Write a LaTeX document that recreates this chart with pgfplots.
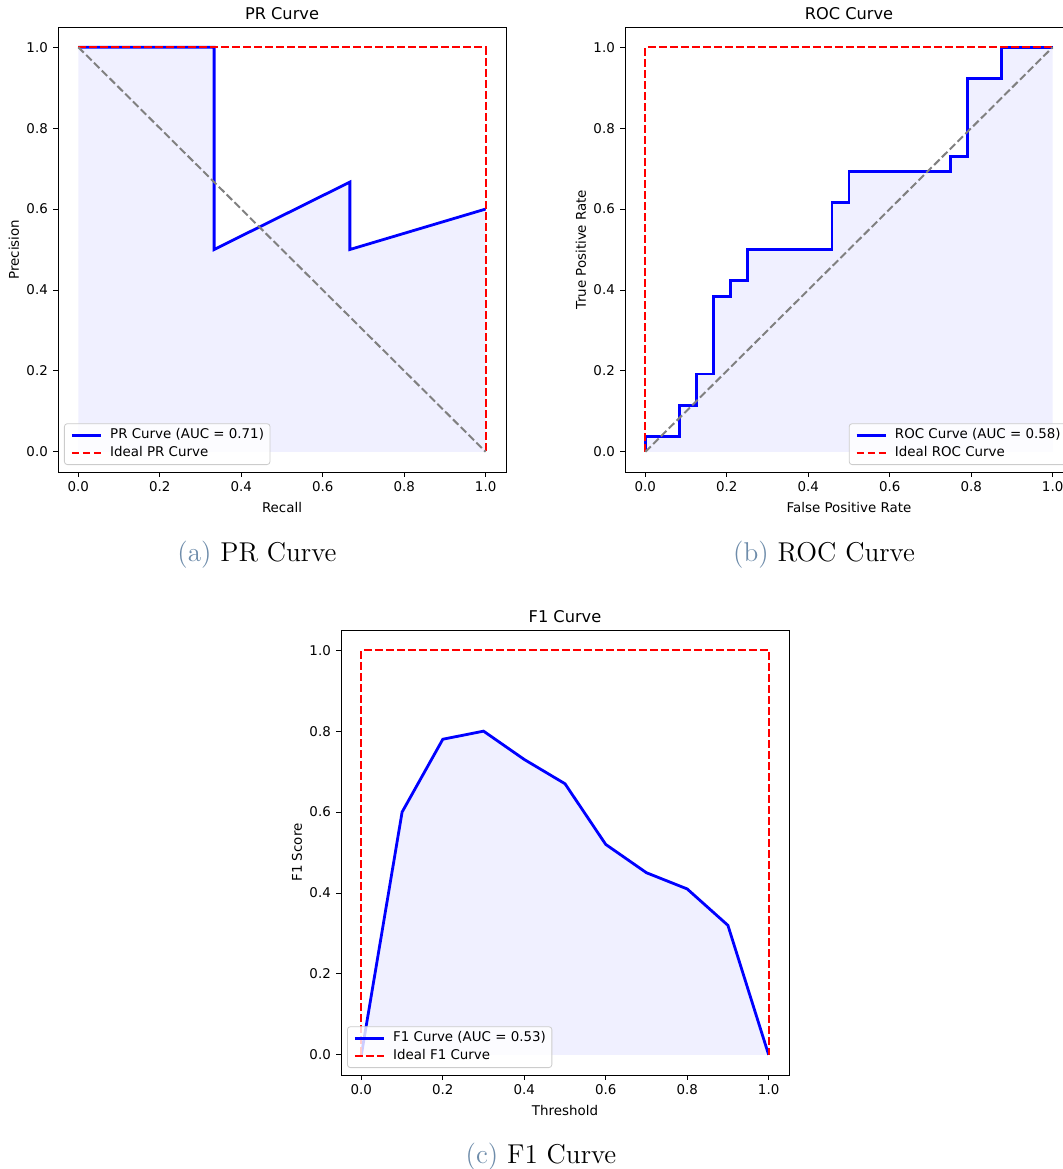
\documentclass[border=0pt]{standalone}
\usepackage{pgfplots}
\pgfplotsset{compat=1.18}
\usepackage{fontspec}
\newfontfamily\dejavu{DejaVu Sans}
\definecolor{fillc}{RGB}{240,240,255}
\definecolor{capc}{RGB}{110,140,170}
\definecolor{legc}{RGB}{204,204,204}

\pgfplotsset{
  mpl/.style={
    scale only axis, width=224pt, height=222.5pt,
    xmin=-0.05, xmax=1.05, ymin=-0.05, ymax=1.05,
    xtick={0,0.2,0.4,0.6,0.8,1}, ytick={0,0.2,0.4,0.6,0.8,1},
    tick pos=left, tick align=outside,
    major tick length=2.45pt,
    every tick/.style={black, line width=0.45pt},
    axis line style={line width=0.45pt},
    /pgf/number format/fixed,
    /pgf/number format/fixed zerofill,
    /pgf/number format/precision=1,
    /pgf/number format/assume math mode=true,
    ticklabel style={font=\dejavu\fontsize{6.7}{8}\selectfont, inner sep=0pt},
    xticklabel style={yshift=-2.3pt},
    yticklabel style={xshift=-2.45pt},
    every axis title/.style={at={(0.5,1)}, yshift=6.5pt, anchor=center,
      font=\dejavu\fontsize{8.1}{9.5}\selectfont},
    every axis x label/.style={at={(0.5,0)}, yshift=-17.5pt, anchor=center,
      font=\dejavu\fontsize{6.7}{8}\selectfont},
    every axis y label/.style={at={(0,0.5)}, xshift=-22pt, rotate=90, anchor=center,
      font=\dejavu\fontsize{6.7}{8}\selectfont},
    legend cell align=left,
    legend image code/.code={\draw[##1] (0pt,0pt) -- (14.5pt,0pt);},
    legend style={draw=legc, fill=white, fill opacity=0.8, text opacity=1,
      rounded corners=1.5pt,
      font=\dejavu\fontsize{6.7}{8}\selectfont,
      inner xsep=3pt, inner ysep=1.5pt, row sep=0.3pt,
      nodes={inner xsep=0pt, inner ysep=1pt},
      /tikz/every odd column/.append style={column sep=4pt}},
  },
  bl/.style={blue, line width=1.4pt},
  rd/.style={red, line width=1.05pt, dash pattern=on 3.85pt off 1.65pt},
  gr/.style={gray, line width=1.0pt, dash pattern=on 3.85pt off 1.65pt, forget plot},
  fl/.style={fill=fillc, draw=none, forget plot},
}

\begin{document}
\begin{tikzpicture}
% PR curve
\begin{axis}[mpl, at={(29pt,-236pt)}, anchor=south west,
  title={PR Curve}, xlabel={Recall}, ylabel={Precision},
  legend style={at={(0,0)}, anchor=south west, xshift=3pt, yshift=3.5pt}]
\addplot[fl] coordinates {(0,1) (0.3333,1) (0.3333,0.5) (0.6667,0.6667) (0.6667,0.5) (1,0.6) (1,0) (0,0)};
\addplot[bl] coordinates {(0,1) (0.3333,1) (0.3333,0.5) (0.6667,0.6667) (0.6667,0.5) (1,0.6)};
\addplot[rd] coordinates {(0,1) (1,1) (1,0)};
\addplot[gr] coordinates {(0,1) (1,0)};
\legend{PR Curve (AUC = 0.71), Ideal PR Curve}
\end{axis}

% ROC curve
\begin{axis}[mpl, at={(312.5pt,-236pt)}, anchor=south west,
  title={ROC Curve}, xlabel={False Positive Rate}, ylabel={True Positive Rate},
  legend style={at={(1,0)}, anchor=south east, xshift=-3pt, yshift=3.5pt}]
\addplot[fl] coordinates {(0,0) (0,0.0385) (0.0833,0.0385) (0.0833,0.1154) (0.125,0.1154) (0.125,0.1923) (0.1667,0.1923) (0.1667,0.3846) (0.2083,0.3846) (0.2083,0.4231) (0.25,0.4231) (0.25,0.5) (0.4583,0.5) (0.4583,0.6154) (0.5,0.6154) (0.5,0.6923) (0.75,0.6923) (0.75,0.7308) (0.7917,0.7308) (0.7917,0.9231) (0.875,0.9231) (0.875,1) (1,1) (1,0)};
\addplot[bl] coordinates {(0,0) (0,0.0385) (0.0833,0.0385) (0.0833,0.1154) (0.125,0.1154) (0.125,0.1923) (0.1667,0.1923) (0.1667,0.3846) (0.2083,0.3846) (0.2083,0.4231) (0.25,0.4231) (0.25,0.5) (0.4583,0.5) (0.4583,0.6154) (0.5,0.6154) (0.5,0.6923) (0.75,0.6923) (0.75,0.7308) (0.7917,0.7308) (0.7917,0.9231) (0.875,0.9231) (0.875,1) (1,1)};
\addplot[rd] coordinates {(0,0) (0,1) (1,1)};
\addplot[gr] coordinates {(0,0) (1,1)};
\legend{ROC Curve (AUC = 0.58), Ideal ROC Curve}
\end{axis}

% F1 curve
\begin{axis}[mpl, at={(170.5pt,-537.5pt)}, anchor=south west,
  title={F1 Curve}, xlabel={Threshold}, ylabel={F1 Score},
  legend style={at={(0,0)}, anchor=south west, xshift=3pt, yshift=3.5pt}]
\addplot[fl] coordinates {(0,0) (0.1,0.60) (0.2,0.78) (0.3,0.80) (0.4,0.73) (0.5,0.67) (0.6,0.52) (0.7,0.45) (0.8,0.41) (0.9,0.32) (1,0)};
\addplot[bl] coordinates {(0,0) (0.1,0.60) (0.2,0.78) (0.3,0.80) (0.4,0.73) (0.5,0.67) (0.6,0.52) (0.7,0.45) (0.8,0.41) (0.9,0.32) (1,0)};
\addplot[rd] coordinates {(0,0) (0,1) (1,1) (1,0)};
\legend{F1 Curve (AUC = 0.53), Ideal F1 Curve}
\end{axis}

\node[anchor=base, font=\fontsize{13.6}{16}\selectfont] at (128.5pt,-280.5pt) {\textcolor{capc}{(a)} PR Curve};
\node[anchor=base, font=\fontsize{13.6}{16}\selectfont] at (412pt,-280.5pt) {\textcolor{capc}{(b)} ROC Curve};
\node[anchor=base, font=\fontsize{13.6}{16}\selectfont] at (270.5pt,-581.5pt) {\textcolor{capc}{(c)} F1 Curve};

\pgfresetboundingbox
\useasboundingbox (0pt,0pt) rectangle (531pt,-584.5pt);
\end{tikzpicture}
\end{document}
